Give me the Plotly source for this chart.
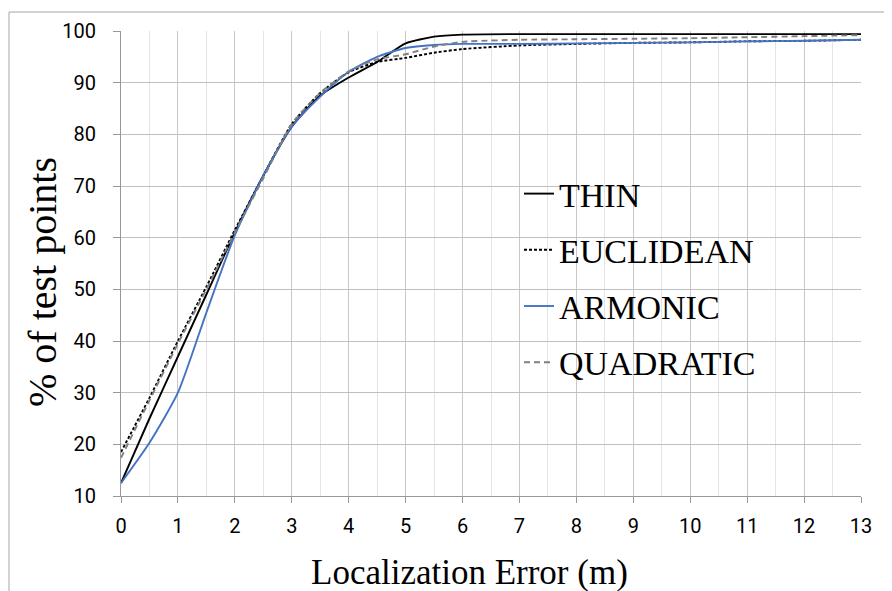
import plotly.graph_objects as go

x_vals = [0, 0.5, 1, 1.5, 2, 2.5, 3, 3.5, 4, 4.5, 5, 5.5, 6, 7, 8, 9, 10, 11, 12, 13]

thin = [12.5, 25, 37, 49, 61, 72, 81.5, 87.5, 91, 94, 97.6, 98.9, 99.3, 99.4, 99.4, 99.4, 99.4, 99.4, 99.4, 99.4]
euclidean = [18.5, 29, 40, 50.5, 61.5, 72, 82, 88, 92, 94, 94.8, 95.8, 96.5, 97.2, 97.5, 97.7, 97.8, 98.0, 98.1, 98.3]
armonic = [12.5, 20.3, 30, 45.5, 60.5, 72, 81.5, 87.3, 92.1, 95, 96.7, 97.3, 97.5, 97.5, 97.6, 97.7, 97.8, 98.0, 98.1, 98.3]
quadratic = [17.4, 28.5, 39.5, 50, 61, 71.5, 82, 88, 92.2, 94.5, 95.5, 97, 97.9, 98.3, 98.4, 98.5, 98.6, 98.8, 99.0, 99.2]

x_ticks = list(range(0, 14))
y_ticks = list(range(10, 101, 10))

x_title = "Localization Error (m)"
y_title = "% of test points"

OFF = 8  # default page body margin
W, H = 892 - OFF, 591 - OFF
SL, SR, ST, SB = 121, 861, 31, 496  # plot area in screen pixels
L, T = SL - OFF, ST - OFF
pw, ph = SR - SL, SB - ST
R, B = W - L - pw, H - T - ph

def px(sx):
    return (sx - SL) / pw

def py(sy):
    return (SB - sy) / ph

SERIF = "Liberation Serif, Times New Roman, serif"
SANS = "Liberation Sans Narrow, Roboto, sans-serif"

fig = go.Figure()
series = [
    ("THIN", thin, dict(color="black", width=1.9, dash="solid")),
    ("EUCLIDEAN", euclidean, dict(color="black", width=1.9, dash="3px,2px")),
    ("ARMONIC", armonic, dict(color="#4472C4", width=1.9, dash="solid")),
    ("QUADRATIC", quadratic, dict(color="#808080", width=1.9, dash="6px,4px")),
]
for name, ys, ln in series:
    fig.add_trace(go.Scatter(x=x_vals, y=ys, mode="lines", name=name,
                             line=dict(shape="spline", smoothing=0.6, **ln),
                             legendgroup=name))

fig.update_layout(
    width=W, height=H,
    margin=dict(l=L, r=R, t=T, b=B, autoexpand=False),
    paper_bgcolor="white", plot_bgcolor="white",
    showlegend=True,
    legend=dict(x=px(519), y=py(165), xanchor="left", yanchor="top",
                bgcolor="rgba(0,0,0,0)", borderwidth=0,
                font=dict(family=SERIF, size=34, color="black"),
                tracegroupgap=9, traceorder="grouped"),
    shapes=[
        dict(type="rect", xref="paper", yref="paper",
             x0=px(455), x1=px(832), y0=py(393), y1=py(167),
             fillcolor="white", line=dict(width=0), layer="between"),
        dict(type="path", xref="paper", yref="paper",
             path=f"M {px(9)},{py(700)} L {px(9)},{py(12)} L {px(1000)},{py(12)}",
             line=dict(color="#a6a6a6", width=1)),
    ],
    annotations=[
        dict(text=x_title, xref="paper", yref="paper", x=px(469), y=py(572),
             xanchor="center", yanchor="middle", showarrow=False,
             font=dict(family=SERIF, size=35, color="black")),
        dict(text=y_title, xref="paper", yref="paper", x=px(42), y=py(282),
             xanchor="center", yanchor="middle", showarrow=False, textangle=-90,
             font=dict(family=SERIF, size=40, color="black")),
    ],
)

fig.update_xaxes(
    range=[0, 13], tickvals=x_ticks, ticktext=[str(v) for v in x_ticks],
    showgrid=True, gridcolor="#c8c8c8", gridwidth=1,
    minor=dict(dtick=0.5, tick0=0, showgrid=True, gridcolor="#e3e3e3", gridwidth=1),
    showline=True, linecolor="#999999", linewidth=1,
    ticks="outside", ticklen=6, tickcolor="#999999", ticklabelstandoff=6,
    tickfont=dict(family=SANS, size=20, color="black"),
    zeroline=False,
)
fig.update_yaxes(
    range=[10, 100], tickvals=y_ticks, ticktext=[str(v) for v in y_ticks],
    showgrid=True, gridcolor="#bfbfbf", gridwidth=1,
    showline=True, linecolor="#999999", linewidth=1,
    ticks="outside", ticklen=7, tickcolor="#999999", ticklabelstandoff=13,
    tickfont=dict(family=SANS, size=20, color="black"),
    zeroline=False,
)

fig.write_html("out.html")
